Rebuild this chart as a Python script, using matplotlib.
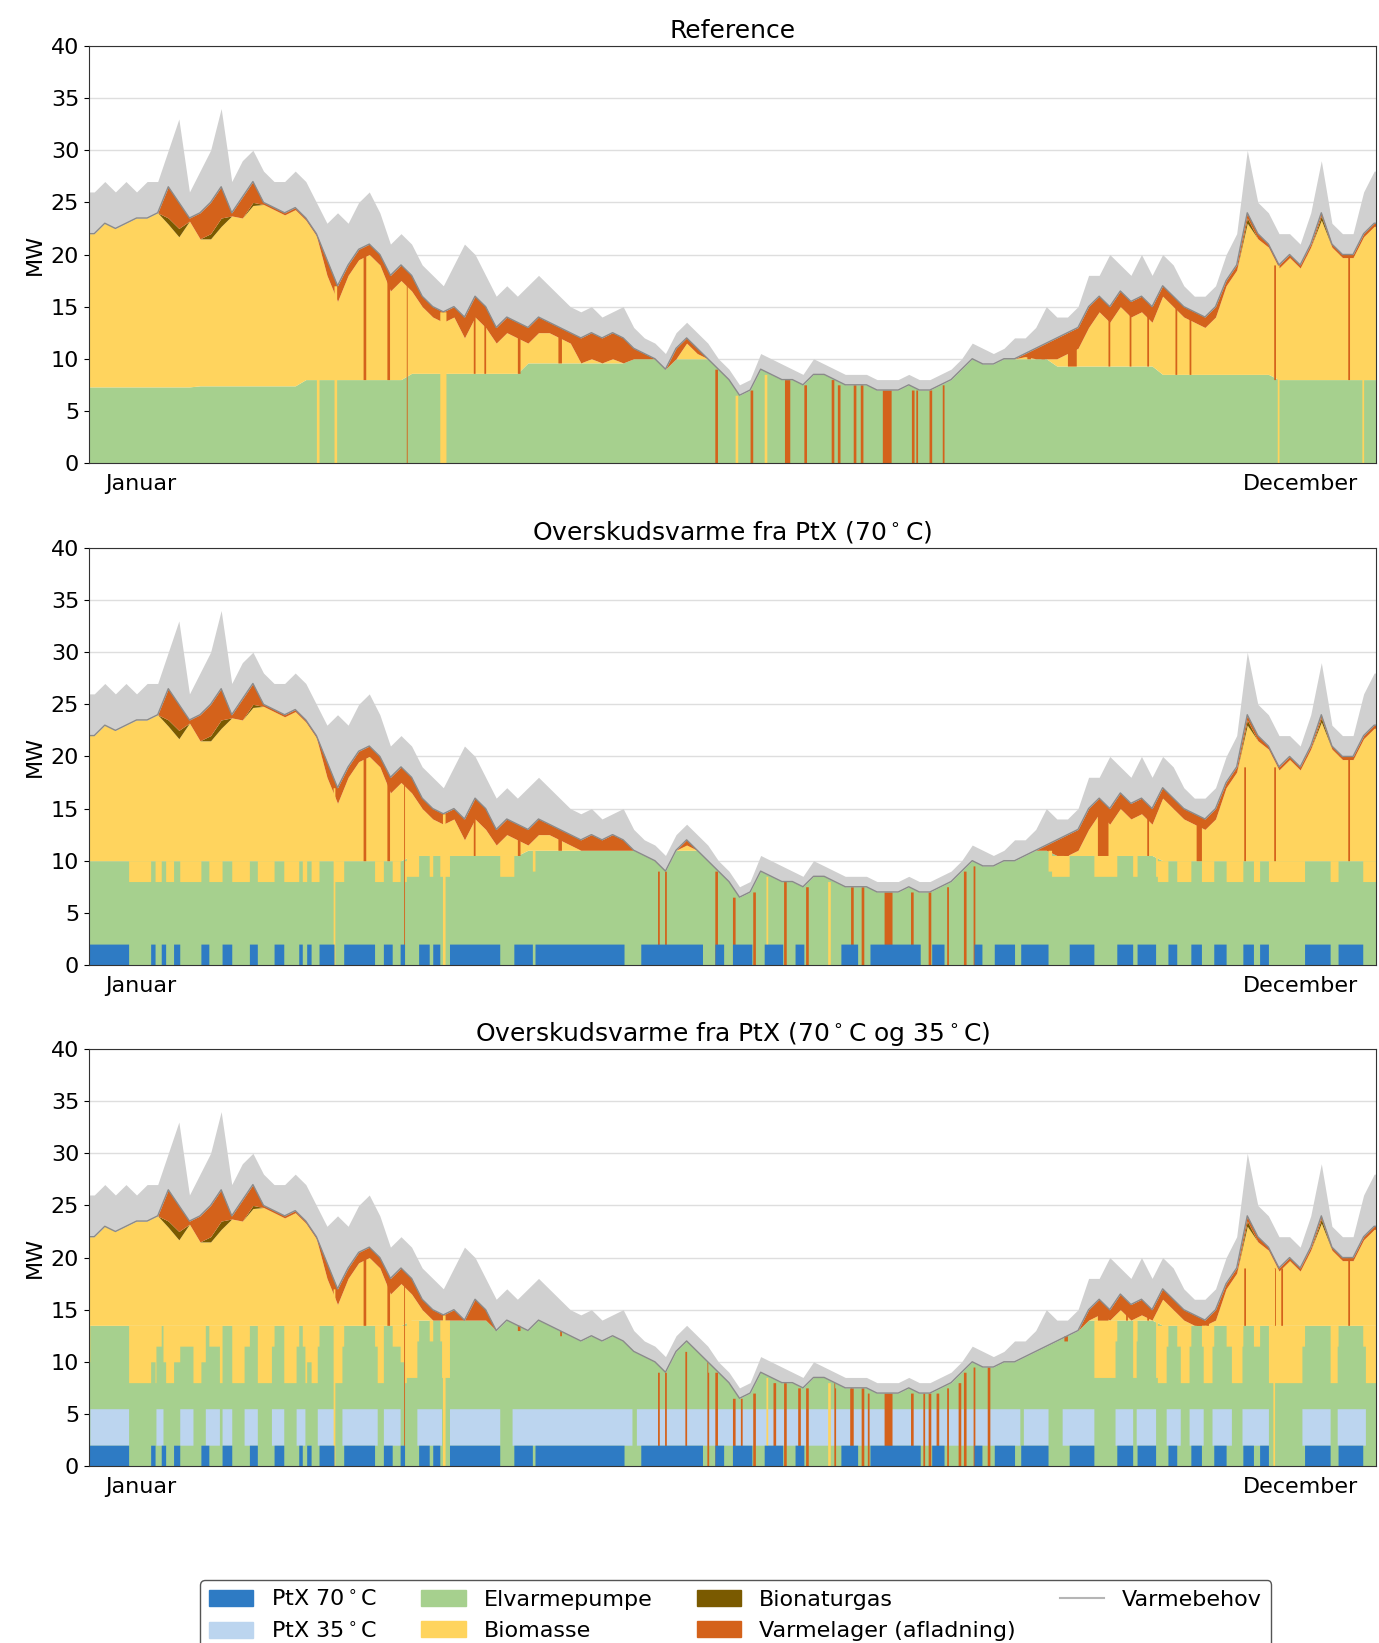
import numpy as np
import matplotlib.pyplot as plt
from matplotlib.patches import Patch
from matplotlib.lines import Line2D

# demand read every 3rd day (day 0, 3, ..., 363), MW
sample_days = np.arange(0, 366, 3)
varmebehov = [22, 23, 22.5, 23, 23.5, 23.5, 24, 26.5, 25, 23.5,
              24, 25, 26.5, 24, 25.5, 27, 25, 24.5, 24, 24.5,
              23.5, 22, 19.5, 17, 19, 20.5, 21, 20, 18, 19,
              18, 16, 15, 14.5, 15, 14, 16, 15, 13, 14,
              13.5, 13, 14, 13.5, 13, 12.5, 12, 12.5, 12, 12.5,
              12, 11, 10.5, 10, 9, 11, 12, 11, 10, 9,
              8, 6.5, 7, 9, 8.5, 8, 8, 7.5, 8.5, 8.5,
              8, 7.5, 7.5, 7.5, 7, 7, 7, 7.5, 7, 7,
              7.5, 8, 9, 10, 9.5, 9.5, 10, 10, 10.5, 11,
              11.5, 12, 12.5, 13, 15, 16, 15, 16.5, 15.5, 16,
              15, 17, 16, 15, 14.5, 14, 15, 17.5, 19, 24,
              22, 21, 19, 20, 19, 21, 24, 21, 20, 20,
              22, 23]
# upper edge of the hourly spikes
varmebehov_top = [26, 27, 26, 27, 26, 27, 27, 30, 33, 26,
                  28, 30, 34, 27, 29, 30, 28, 27, 27, 28,
                  27, 25, 23, 24, 23, 25, 26, 24, 21, 22,
                  21, 19, 18, 17, 19, 21, 20, 18, 16, 17,
                  16, 17, 18, 17, 16, 15, 14.5, 15, 14, 14.5,
                  15, 13, 12, 11.5, 10.5, 12.5, 13.5, 12.5, 11.5, 10,
                  9, 7.5, 8, 10.5, 10, 9.5, 9, 8.5, 10, 9.5,
                  9, 8.5, 8.5, 8.5, 8, 8, 8, 8.5, 8, 8,
                  8.5, 9, 10, 11.5, 11, 10.5, 11, 12, 12, 13,
                  15, 14, 14, 15, 18, 18, 20, 19, 18, 20,
                  18, 20, 19, 17, 16, 16, 17, 20, 22, 30,
                  25, 24, 22, 22, 21, 24, 29, 23, 22, 22,
                  26, 28]
varmelager = [0, 0, 0, 0, 0, 0, 0, 3, 2.5, 0.3,
              2.5, 3, 3, 0.3, 2, 2, 0.2, 0.2, 0.2, 0.2,
              0.2, 0.2, 1.5, 1.5, 1, 1, 1, 1, 1.5, 1.5,
              1.5, 1, 1, 1, 1, 2, 2, 2, 1.5, 1.5,
              1.5, 1.5, 1.5, 1, 1, 1, 2.5, 2.5, 2.5, 2.5,
              2.5, 1, 1, 1, 1, 1, 0.5, 0.5, 0.5, 0.5,
              0.5, 0, 0, 0, 0, 0, 0, 0, 0, 0,
              0, 0, 0, 0, 0, 0, 0, 0, 0, 0,
              0, 0.3, 0.3, 0.3, 0.3, 0.3, 0.3, 0.3, 0.3, 2,
              2, 2, 2, 2, 2, 1.5, 1.5, 1.5, 1.5, 1.5,
              1.5, 1, 1, 1, 1, 1, 1, 0.5, 0.5, 0.5,
              0.5, 0.3, 0.3, 0.3, 0.3, 0.3, 0.3, 0.3, 0.3, 0.3,
              0.3, 0.3]
bionaturgas_days = [21, 24, 33, 36, 45, 327, 348]
bionaturgas_mw = [0.6, 0.8, 0.5, 0.8, 0.3, 0.5, 0.4]

# heat pump capacity per month
elvarmepumpe_ref = [7.3, 7.4, 8, 8.6, 9.6, 10, 10, 10, 10, 9.3, 8.5, 8]
elvarmepumpe_ptx = [8, 8, 8, 8.5, 9, 9, 9, 9, 9, 8.5, 8, 8]

ptx70_mw = 2.0
ptx35_mw = 3.5
ptx70_on = [(0, 11.2), (17.6, 18.7), (20.6, 21.8), (24, 25.8), (31.8, 34), (37.7, 40.6),
            (45.4, 47.7), (52.4, 55.3), (59.4, 60.6), (61.8, 63), (65.3, 69.5), (72.3, 81.1),
            (83.5, 85.9), (88.2, 89.4), (93.5, 96.5), (97.6, 99.4), (102.3, 116.4),
            (120.5, 125.8), (126.5, 151.7), (156.4, 174), (177.5, 180), (182.6, 188),
            (191.4, 196.8), (200.2, 202.8), (213.3, 218), (221.5, 235.7), (239, 242.6),
            (250.9, 253.3), (256.7, 262.6), (264.3, 272), (278, 285), (291.4, 296),
            (297.2, 302.6), (306, 308.6), (312.5, 315.5), (319, 322.6), (327.3, 330.2),
            (332, 334.4), (344.8, 351.9), (354.3, 361.3)]
ptx35_on = [(0.3, 11.2), (19, 21), (25.8, 29.5), (33, 37), (37.7, 40.6), (44, 47.7),
            (51.8, 55.3), (58.8, 61.2), (64.7, 69.5), (71.7, 81.7), (83.5, 88.2), (93, 100),
            (102.3, 116.4), (120, 154), (155.3, 264), (265, 272), (276, 285), (291, 296),
            (297, 302.6), (305.5, 309.5), (312, 316), (318.5, 324), (327, 334.4),
            (344, 352), (354, 362)]

# (start day, end day, colour, through the heat pump too)
stripes_ref = [(64.5, 65.3, 'y', True), (69.5, 70.2, 'y', True), (77.8, 78.6, 'o', False),
               (84.5, 85.2, 'o', False), (90, 90.3, 'o', True), (99.5, 101.2, 'y', True),
               (109, 109.6, 'o', False), (112, 112.5, 'o', False), (121.5, 122.2, 'o', False),
               (133, 134, 'o', False), (177.5, 178.3, 'o', True), (183.3, 184, 'y', True),
               (187.5, 188.2, 'o', True), (191.5, 192.2, 'y', True), (197.2, 198.8, 'o', True),
               (202.8, 203.5, 'o', True), (210.5, 211.2, 'o', True), (212.2, 213, 'o', True),
               (216.8, 217.5, 'o', True), (218.8, 219.5, 'o', True), (225, 227.6, 'o', True),
               (233.2, 234, 'o', True), (234.4, 235, 'o', True), (238.3, 239, 'o', True),
               (242, 242.6, 'o', True), (266, 267, 'o', False), (270, 271, 'o', False),
               (277.5, 280, 'o', False), (289, 289.6, 'o', False), (295, 295.6, 'o', False),
               (300, 300.6, 'o', False), (308, 308.6, 'o', False), (312, 312.6, 'o', False),
               (336, 336.6, 'o', False), (337, 337.6, 'y', True), (357, 357.6, 'o', False),
               (361, 361.6, 'y', True)]
stripes_ptx = [(69.2, 69.8, 'y', True), (89.2, 89.5, 'o', True), (100.2, 101, 'y', True),
               (77.8, 78.6, 'o', False), (84.5, 85.2, 'o', False), (109, 109.6, 'o', False),
               (121.5, 122.2, 'o', False), (133, 134, 'o', False), (161.2, 161.7, 'o', True),
               (163.3, 163.8, 'o', True), (177.5, 178.2, 'o', True), (182.6, 183.2, 'o', True),
               (188.2, 188.9, 'o', True), (192, 192.6, 'y', True), (197, 197.8, 'o', True),
               (203.3, 204, 'o', True), (209.6, 210.3, 'y', True), (216, 216.8, 'o', True),
               (219.1, 219.8, 'o', True), (225.5, 227.8, 'o', True), (233.1, 233.8, 'o', True),
               (238.1, 238.8, 'o', True), (243.2, 243.8, 'o', True), (248.1, 248.7, 'o', True),
               (250.8, 251.3, 'o', True), (276.5, 277.8, 'o', False), (286, 289, 'o', False),
               (300, 300.6, 'o', False), (314, 315.5, 'o', False), (327.5, 328, 'o', False),
               (336, 336.6, 'o', False), (357, 357.6, 'o', False)]
stripes_35 = [(168.9, 169.5, 'o', True), (175.2, 175.8, 'o', True), (184.7, 185.3, 'o', True),
              (194.1, 194.7, 'o', True), (201.1, 201.7, 'o', True), (211.2, 211.8, 'o', True),
              (215.7, 216.3, 'o', True), (220.7, 221.3, 'o', True), (236.5, 237.1, 'o', True),
              (240.3, 240.9, 'o', True), (246.6, 247.2, 'o', True), (254.8, 255.4, 'o', True),
              (294, 294.6, 'o', False), (316.8, 317.4, 'o', False), (335.8, 336.2, 'y', True),
              (338, 338.6, 'o', False)]

colors = ['#2e7bc4', '#bcd5ef', '#a6d08e', '#ffd45e', '#7a5a00', '#d4621b']
names = ['PtX 70$^\\circ$C', 'PtX 35$^\\circ$C', 'Elvarmepumpe', 'Biomasse',
         'Bionaturgas', 'Varmelager (afladning)']
col70, col35, col_hp, col_bio, col_gas, col_lager = colors
stripe_col = {'o': col_lager, 'y': col_bio}

dem = np.array(varmebehov, float)
dem_top = np.array(varmebehov_top, float)
gas_sample = np.zeros(len(sample_days))
for d, v in zip(bionaturgas_days, bionaturgas_mw):
    gas_sample[d // 3] = v
sample_month = np.minimum(((sample_days + 1.5) / 30.42).astype(int), 11)

# sample points sit in the middle of their 3-day block
xs = np.concatenate([[0], sample_days * 24 + 36, [8760]])


def ext(a):
    return np.concatenate([[a[0]], a, [a[-1]]])


# 6-hour bins for the on/off pieces
bin_h = 6
edges = np.arange(0, 8760 + bin_h, bin_h)
mid_day = (edges[:-1] + bin_h / 2) / 24
n = len(sample_days)
idx = np.minimum((mid_day // 3).astype(int), n - 1)
nb = np.clip(np.where(mid_day % 3 >= 1.5, idx + 1, idx - 1), 0, n - 1)
env = np.minimum(dem[idx], dem[nb])


def on_mask(periods):
    m = np.zeros(len(mid_day), bool)
    for s, e in periods:
        m |= (mid_day >= s) & (mid_day < e)
    return m


def bin_fill(ax, lo, hi, color):
    ax.fill_between(edges, np.append(lo, lo[-1]), np.append(hi, hi[-1]),
                    step='post', color=color, lw=0)


fig = plt.figure(figsize=(13.79, 16.43), dpi=100)
panels = [
    ('Reference', elvarmepumpe_ref, 0.0, 0.0, stripes_ref, 0.7182),
    ('Overskudsvarme fra PtX (70$^\\circ$C)', elvarmepumpe_ptx, ptx70_mw, 0.0,
     stripes_ptx, 0.4127),
    ('Overskudsvarme fra PtX (70$^\\circ$C og 35$^\\circ$C)', elvarmepumpe_ptx, ptx70_mw,
     ptx35_mw, stripes_ptx + stripes_35, 0.1077),
]

on70 = on_mask(ptx70_on)
on35 = on_mask(ptx35_on)

for title, cap, p70, p35, stripes, y0 in panels:
    ax = fig.add_axes([0.0645, y0, 0.9333, 0.2538])

    # stacked production at the sample points
    gtop = np.minimum(dem, np.array(cap)[sample_month] + p70 + p35)
    rest = dem - gtop
    gas = np.minimum(gas_sample, rest)
    lager = np.minimum(np.array(varmelager), rest - gas)
    bio = rest - gas - lager

    ax.fill_between(xs, ext(dem), ext(dem_top), color='#d0d0d0', lw=0)
    bottom = np.zeros(n)
    for vals, col in [(gtop, col_hp), (bio, col_bio), (gas, col_gas), (lager, col_lager)]:
        ax.fill_between(xs, ext(bottom), ext(bottom + vals), color=col, lw=0)
        bottom = bottom + vals

    gtop_b = gtop[idx]
    zero = np.zeros(len(mid_day))
    if p35 > 0:
        hi = np.minimum(p70 + p35 * on35, env)
        bin_fill(ax, np.full(len(mid_day), p70) * on35, hi * on35, col35)
    if p70 > 0:
        # biomass fills in where the PtX heat is missing
        drop = p70 * (~on70) + p35 * (~on35)
        has_bio = env > gtop_b + 0.3
        lo = np.where(has_bio, gtop_b - drop, gtop_b)
        bin_fill(ax, lo, gtop_b, col_bio)
    for s, e, c, full in stripes:
        m = (mid_day >= s) & (mid_day < e)
        lo = zero if full else gtop_b
        bin_fill(ax, np.where(m, lo, 0), np.where(m, env, 0), stripe_col[c])
    if p70 > 0:
        bin_fill(ax, zero, p70 * on70, col70)

    ax.plot(xs, ext(dem), color='#8a8a8a', lw=1)

    ax.set_xlim(0, 8760)
    ax.set_ylim(0, 40)
    ax.set_yticks(np.arange(0, 41, 5))
    ax.set_xticks([354, 8243])
    ax.set_xticklabels(['Januar', 'December'])
    ax.tick_params(axis='x', length=0, pad=8, labelsize=16)
    ax.tick_params(axis='y', labelsize=16)
    ax.grid(axis='y', color='#dedede', lw=1)
    ax.set_axisbelow(True)
    ax.set_ylabel('MW', fontsize=16)
    ax.set_title(title, fontsize=18, pad=6)
    for sp in ax.spines.values():
        sp.set_color('#333333')

handles = [Patch(color=c) for c in colors] + [Line2D([], [], color='#b5b5b5', lw=1.5)]
labels = names + ['Varmebehov']
fig.legend(handles, labels, loc='upper center', bbox_to_anchor=(0.5334, 1 - 1569 / 1643),
           ncol=4, fontsize=16, edgecolor='#555555', framealpha=1)

fig.savefig('out.png', dpi=100)
